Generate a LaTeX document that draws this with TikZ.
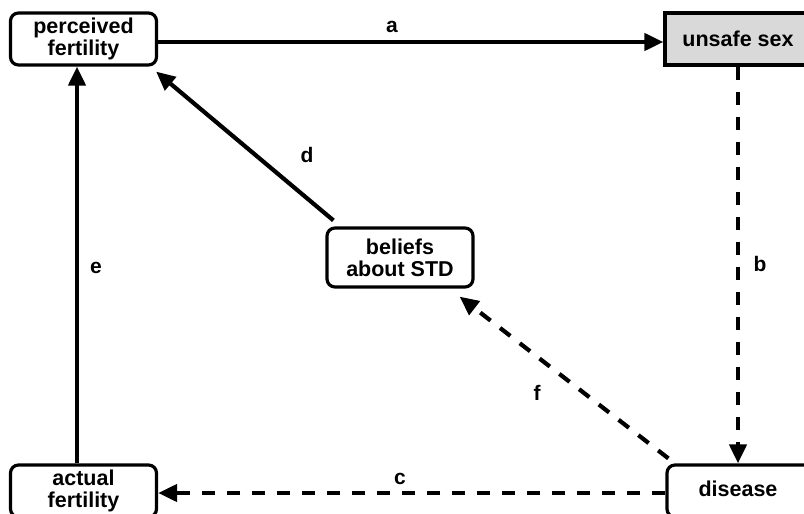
\documentclass[tikz,border=0pt]{standalone}
\usepackage{fontspec}
\setmainfont{Liberation Sans}
\usetikzlibrary{arrows.meta}
\begin{document}
\begin{tikzpicture}[x=1pt,y=-1pt,
  box/.style={draw=black,line width=3.2pt,rounded corners=8pt,minimum width=146pt,minimum height=52pt,inner sep=0pt,align=center,font=\fontsize{21.5}{22}\selectfont\bfseries},
  conn/.style={line width=4.2pt,-{Triangle[length=19pt,width=17pt]}},
  dashconn/.style={conn,dash pattern=on 13pt off 12pt},
  lbl/.style={font=\fontsize{21}{22}\selectfont\bfseries,inner sep=0pt}]
\useasboundingbox (0,0) rectangle (804,514);
\node[box] (perc) at (83.5,39) {perceived\\fertility};
\node[box,rounded corners=0pt,fill=black!15,minimum width=170pt] (unsafe) at (750,39) {\hspace*{-24pt}unsafe sex};
\node[box,minimum height=59pt] (bel) at (400,257.5) {beliefs\\about STD};
\node[box] (act) at (83.5,491) {actual\\fertility};
\node[box,minimum width=170pt] (dis) at (752,491) {\hspace*{-28pt}\raisebox{4pt}{disease}};
\draw[conn] ([yshift=-3pt]perc.east) -- ([yshift=-3pt]unsafe.west);
\draw[dashconn] ([xshift=-12pt]unsafe.south) -- ([xshift=-14pt]dis.north);
\draw[dashconn] ([yshift=-2pt]dis.west) -- ([yshift=-2pt]act.east);
\draw[conn] ([xshift=-6.5pt]act.north) -- ([xshift=-6.5pt]perc.south);
\draw[conn] ([xshift=8pt,yshift=6pt]bel.north west) -- ([xshift=-2pt,yshift=-5pt]perc.south east);
\draw[dashconn] ([xshift=3pt,yshift=5pt]dis.north west) -- ([xshift=-15pt,yshift=-8pt]bel.south east);
\node[lbl] (la) at (392,27) {a};
\node[lbl] (lb) at (760,264) {b};
\node[lbl] (lc) at (400,479) {c};
\node[lbl] (ld) at (307,155) {d};
\node[lbl] (le) at (96,268) {e};
\node[lbl] (lf) at (537,393) {f};
\end{tikzpicture}
\end{document}
